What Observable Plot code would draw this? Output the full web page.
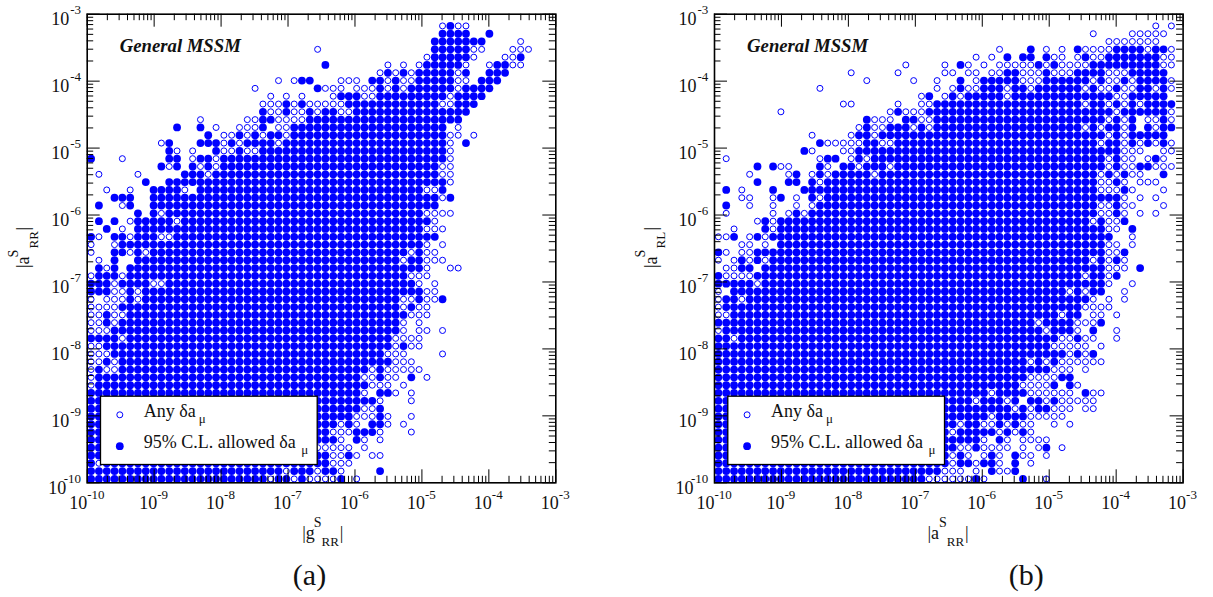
<!DOCTYPE html>
<html>
<head>
<meta charset="utf-8">
<script src="https://cdn.jsdelivr.net/npm/d3@7"></script>
<script src="https://cdn.jsdelivr.net/npm/@observablehq/plot@0.6"></script>
<style>
html,body{margin:0;padding:0;background:#fff;width:1213px;height:597px;overflow:hidden}
#wrap{display:flex;width:1213px;height:597px}
svg{display:block;overflow:visible}
</style>
</head>
<body>
<div id="wrap"></div>
<script>
// log10 of the lattice on which all points of the scan sit (both axes)
const latticeExponents = [-9.942,-9.825,-9.708,-9.592,-9.475,-9.358,-9.242,-9.125,-9.008,-8.892,-8.775,-8.658,-8.542,-8.425,-8.308,-8.192,-8.075,-7.958,-7.842,-7.725,-7.608,-7.492,-7.375,-7.258,-7.142,-7.025,-6.908,-6.792,-6.675,-6.558,-6.442,-6.325,-6.208,-6.092,-5.975,-5.858,-5.742,-5.625,-5.508,-5.392,-5.275,-5.158,-5.042,-4.925,-4.808,-4.692,-4.575,-4.458,-4.342,-4.225,-4.108,-3.992,-3.875,-3.758,-3.642,-3.525,-3.408,-3.292,-3.175,-3.058];
const tickExponents = [-10,-9,-8,-7,-6,-5,-4,-3];
const minorMultipliers = [2,3,4,5,6,7,8,9];

// Each entry is one lattice row from the top; tokens are lattice column numbers or ranges.
const panelAAllowed = ["","46","45-48 51","44-50","44-48","44-48 55","30 43-47 52 53","38 40 42-46 48 51-53","27 28 36 37 39 42-46 50-52","29 37 39 41-46 48-51","32-34 37-45 47-50","25 27 33-44 47-49","22 25 28 30 31 34-48","22 23 28-47","11 14 22 26-45","15 19 21 23 24 26-45","10 14 15 16 18 20-23 25-45 48","10 16 19 22-45","0 10 11 14 15 17-45","9 11 13 15 17-44","12 13 14 16-44","7 10-45","8-11 14-42 45","3 4 5 8-44 46","1 5 8-44","6 8 10-42","1 3 6-10 12-43","2 6-42","0 3 4 6 7 8 11-44","4-42","3 4 6 8-40 42","3 6-39 41 42","1 3 5-42","1-3 5-40","0-2 4-7 10-41","0-2 5 7-42","5 7-39 42 45","4-39 41","2 5-40","2 4-39","3-39","0-3 5-38","2-38 40","3-37","2 4-38","1 4-35 37","1-34 37 41","1-35","0-34 37 38","0-36","0-34 37","0-33 37","0-31 33 36 37","0-30 34 35 36","0-31 34","0-28","0-30 33","0 2-30","0-24 26-28 30 31 37","0-22 24 25 27 32"];
const panelAAny = ["","45 47 48","","55","29 49 50 54 55 56","43 49 53 54","38 40 42 48 51 54 55","37 39 41 47","24 26 32 33 34 38 40 41 47 48","21 30 31 32 34 35 36 38 40 47","23 25 27 31 35 36 46","22 23 24 26 28-32 45 46","23 24 26 27 29 32 33","14 20 21 24-27","16 19 20 21 24 25 47","17 18 20 22 25 46 47 49","9 17 19 24 46","11 13 17 18 20 21 46","4 13 16 46","10 14 16 45 46","1 6 15 45 46","46","2 5 12 43 44","45","4","9 43-46","5 11 44","4 43 44 45","1 5 9 10","0 3 43 45","0 5 7 41 43 44","1 40 43 44 45","2 43 46 47","0 4 41 42 43","3 8 9 42 44","3 4 6 43 44","0 2 3 4 6 40 41 43 44","0-3 40 42 43","0 1 3 4 41 42 43","0 1 3 40 42","0 1 2 40 42 43 45","4 39-42","0 1 39 41 42","0 1 2 38 39 40 45","0 1 3 39 40 41","0 2 3 36 38-42","0 35 36 38 39 43","0 36 37 38 40","35 39 41","37 41","35 36","34 35 36 38 41","32 34 38 40","31 32 33 37 41","32 35 37","29-33 35","31 32 34 36 37","1 31 32 33","25 29 32","23 26 28-31 34"];
const panelBAllowed = ["","","","","40 46 51-54 56 57","37 39 40 42 47 50-56","31 41 43 48-56","37 38 42 46-49 53-57","31 34-38 42-47 49 52 54-57","31 34-36 38 39 41-46 48 51 54 55 57","27 30 32-36 38-50 53-57","28-46 48 49 51 53 55-58","23 27-50 52-57","19 24 25 28-49 51 53 57","19 22-24 26 28-46 48 50 51 53 55 57 58","18 19 21-49 51 53-57","13 19 20 23-48 50 51 53 55 57","11 18-51","14 15 18 20-49 51 56","5 7 13 16 17 19-21 23-49 51 54 55","10 13 15-19 21-48 50 52 57","5 9 10 12 14-48 51","1 7 11 12-48 52","8 12 14-51","1 13-48 51","10 12-48 51","6 8-47 49 52","6 8-49 53","2 5 7-50","8-49","0 5-49 52","3 5 7-47 49 51","3 4 6-49 54","0 5-46 48 49 51","0-4 6-49","2-44 46 48 49","1 2 4-47","1-46","2-43 45 46","0-40 42-45 49","1-41 43-45 48","0 1 3-43 46","0-42","0-44 46 48","0-39 41 43","0-42","0-39 44 45","0-38 43 45","0-34 36-39 47","0-32 34-36 38 40 41 43","0-37 39 41 42","0-34 36-39","0-30 32 33 36 38","0-29 31-35 37 39","0-33 36","0-30 33 42","0-29 31 35 38","0-29 31 32 34 35 38","0-28 35 38","0-26 33 39"];
const panelBAny = ["","56 58","48 53-57","50-56","36 42 44 47-50 55 58","33 35 43 44 46 48 49 57 58","24 29 32 34 36-40 42 44-47 57 58","17 23 29 30 32 33 35 36 39 40 41 43 44 45 50 51 52","19 25 28 33 39 40 41 48 50 51 53 58","13 28 30 32 33 37 40 47 49 50 52 53 56 58","26 29 31 37 51 52","16 17 23 26 27 47 50 52 54","8 22 24 25 26 51 58","20 21 22 26 27 50 52 55 56 58","18 20 21 25 27 47 49 52 56","12 17 20 50 52","14-18 21 22 49 52 54 56 58","12 16 17 52 53 54 57 58","1 13 17 19 50 52 53 55 57","8 9 14 18 22 50 52 53 56 57 58","4 9 12 14 20 49 51 53 54","13 49 50 52 54 55 56","3 49 50 51 53 57","3 4 7 10 13 52 54 56","4 7 10 12 49 50 52 53 57","1 7 9 11 49 50 52 54 56","5 7 48 50 51","2 7 50 51","0 1 4 6 53","3 4 6 50 51 53","1 3 4 50 51","0 2 4 6 48 50 52","1 2 50 51 52","1-4 47 50","5 50 53","0 45 47 52","0 3 48 50 52","0 47-50","0 1 44 48 49 51","41 46 47 48","0 42 46 51","2 44 45 47 48 51","43-47 49","45 47","40 42 44-49","43 44 45 47","40-43","39-42 46","35 40-45 48 49","33 37 42 44-48","38 40 43 44 45 47 48","29 35 40-44","31 34 35 37 39 40 43 45","30 36 38 40","29 34 37 39-42","31 32 34-37 39 41 44","30 32 34 36 39 40 42","30 33 36 40","29 30 31 33 36 37","27-32 34 42"];

const BLUE = "#0000ff", INK = "#111111", SERIF = "Liberation Serif";
const TOP = 13.7, BOTTOM = 482.3, SPAN = BOTTOM - TOP, SVG_H = 597;

const expand = s => s.split(" ").filter(Boolean).flatMap(t => {
  const [a, b = a] = t.split("-").map(Number);
  return d3.range(a, b + 1);
});
const toPoints = rows => rows.flatMap((row, r) => expand(row).map(c => ({
  x: 10 ** latticeExponents[c],
  y: 10 ** latticeExponents[59 - r]
})));

function panel(cfg) {
  const {left, width, shift, labelShift, captionX, allowed, any, caption, xLabel, yLabel} = cfg;
  const mL = left, mR = width - left - SPAN;
  const label = (str, x, base, fs, extra = {}) => Plot.text([str], {
    text: d => d, frameAnchor: "top-left", dx: x - mL, dy: base - TOP,
    textAnchor: "start", lineAnchor: "bottom", fontSize: fs, fill: INK, ...extra
  });
  const at = s => x => x + s;
  const lx = at(labelShift), tx = at(shift);
  const vlabel = (str, x, y, fs) => label(str, x, y, fs, {rotate: -90});

  const majors = tickExponents.map(e => 10 ** e);
  const minors = tickExponents.slice(0, -1).flatMap(e => minorMultipliers.map(m => m * 10 ** e));
  const single = tickExponents.filter(e => e > -10), dbl = tickExponents.filter(e => e === -10);
  const expText = e => String(e);

  const inside = (vals, len, w) => [
    Plot.tickX(vals, {x: d => d, insetBottom: SPAN - len, stroke: "#000", strokeWidth: w}),
    Plot.tickX(vals, {x: d => d, insetTop: SPAN - len, stroke: "#000", strokeWidth: w}),
    Plot.tickY(vals, {y: d => d, insetRight: SPAN - len, stroke: "#000", strokeWidth: w}),
    Plot.tickY(vals, {y: d => d, insetLeft: SPAN - len, stroke: "#000", strokeWidth: w})
  ];

  const XB = 508 - BOTTOM, XE = 498 - BOTTOM;
  const xTickText = (vals, tenDx, expDx) => [
    Plot.text(vals, {x: d => 10 ** d, text: () => "10", frameAnchor: "bottom", dx: tenDx, dy: XB, textAnchor: "end", lineAnchor: "bottom", fontSize: 18, fill: INK}),
    Plot.text(vals, {x: d => 10 ** d, text: expText, frameAnchor: "bottom", dx: expDx, dy: XE, textAnchor: "start", lineAnchor: "bottom", fontSize: 13, fill: INK})
  ];
  const yTickText = (vals, tenDx) => [
    Plot.text(vals, {y: d => 10 ** d, text: () => "10", frameAnchor: "left", dx: tenDx, dy: 10.7, textAnchor: "end", lineAnchor: "bottom", fontSize: 18, fill: INK}),
    Plot.text(vals, {y: d => 10 ** d, text: expText, frameAnchor: "left", dx: -6.2, dy: 0, textAnchor: "end", lineAnchor: "bottom", fontSize: 13, fill: INK})
  ];

  return Plot.plot({
    width, height: SVG_H,
    marginLeft: mL, marginRight: mR, marginTop: TOP, marginBottom: SVG_H - BOTTOM,
    style: {background: "#fff", fontFamily: SERIF, overflow: "visible"},
    x: {type: "log", domain: [1e-10, 1e-3], axis: null},
    y: {type: "log", domain: [1e-10, 1e-3], axis: null},
    marks: [
      Plot.dot(toPoints(any), {x: "x", y: "y", r: 3, fill: "none", stroke: BLUE, strokeWidth: 1}),
      Plot.dot(toPoints(allowed), {x: "x", y: "y", r: 3.9, fill: BLUE, stroke: "none"}),
      ...inside(minors, 6.5, 1),
      ...inside(majors, 13, 1),
      Plot.frame({stroke: "#000", strokeWidth: 1.6}),
      ...xTickText(single, 3, 3),
      ...xTickText(dbl, 0, 0),
      ...yTickText(single, -18),
      ...yTickText(dbl, -21),
      // inner title
      label("General MSSM", tx(119.3), 51.7, 18.7, {fontWeight: "bold", fontStyle: "italic"}),
      // legend
      Plot.frame({insetLeft: 100 - 86.7, insetRight: SPAN - (316.7 - 86.7), insetTop: 395.7 - TOP, insetBottom: BOTTOM - 464, fill: "#fff", stroke: "#000", strokeWidth: 1.3}),
      Plot.dot([0], {frameAnchor: "top-left", dx: 119.3 - 86.7, dy: 414.3 - TOP, r: 3, fill: "none", stroke: BLUE, strokeWidth: 1}),
      Plot.dot([0], {frameAnchor: "top-left", dx: 119.3 - 86.7, dy: 445.7 - TOP, r: 3.9, fill: BLUE, stroke: "none"}),
      label("Any δa", tx(143.3), 416, 18),
      label("μ", tx(198.3), 422.5, 13),
      label("95% C.L. allowed δa", tx(143.3), 447, 18),
      label("μ", tx(300.7), 453.5, 13),
      // x label
      label("|" + xLabel[0], lx(301.7), 538, 18),
      label("S", lx(313.3), 526.7, 14),
      label(xLabel[1], lx(321), 545, 13),
      label("|", lx(339.3), 538, 18),
      // y label
      vlabel("|a", tx(29), 267.5, 18),
      vlabel("S", tx(17.5), 257, 14),
      vlabel(yLabel, tx(37.3), 248, 13),
      vlabel("|", tx(29), 230, 18),
      // caption
      label(caption, captionX, 584, 30, {textAnchor: "middle"})
    ]
  });
}

const wrap = document.getElementById("wrap");
wrap.append(panel({left: 86.7, width: 606, shift: 0, labelShift: 0, captionX: 309, allowed: panelAAllowed, any: panelAAny, caption: "(a)", xLabel: ["g", "RR"], yLabel: "RR"}));
wrap.append(panel({left: 108, width: 607, shift: 21.3, labelShift: 19.3, captionX: 1025.7 - 606, allowed: panelBAllowed, any: panelBAny, caption: "(b)", xLabel: ["a", "RR"], yLabel: "RL"}));
</script>
</body>
</html>
